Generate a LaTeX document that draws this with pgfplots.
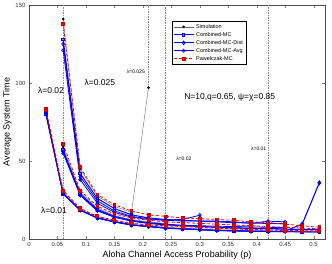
\documentclass[border=0pt]{standalone}
\usepackage{pgfplots}
\pgfplotsset{compat=1.18}
\usepackage{fontspec}
\setmainfont{Liberation Sans}
\begin{document}
\begin{tikzpicture}
\path[use as bounding box] (0,0) rectangle (332pt,264pt);
\begin{axis}[
  at={(29pt,25pt)}, anchor=south west,
  width=296pt, height=234pt, scale only axis,
  xmin=0, xmax=0.52, ymin=0, ymax=150,
  xtick={0,0.05,0.1,0.15,0.2,0.25,0.3,0.35,0.4,0.45,0.5},
  xticklabels={0,0.05,0.1,0.15,0.2,0.25,0.3,0.35,0.4,0.45,0.5},
  ytick={0,50,100,150},
  scaled x ticks=false,
  tick align=inside, major tick length=3pt,
  /pgf/number format/assume math mode=true,
  tick label style={font=\fontsize{6}{7}\selectfont, text=black!80},
  xlabel={Aloha Channel Access Probability (p)},
  ylabel={Average System Time},
  label style={font=\fontsize{9}{10}\selectfont},
  xlabel style={yshift=3pt},
  ylabel style={yshift=-3pt},
  axis line style={black!70},
  legend cell align=left,
  legend style={at={(0.483,0.932)}, anchor=north west, font=\fontsize{5.5}{6}\selectfont,
    draw=black, fill=white, inner sep=1pt, row sep=-1.5pt},
  legend image code/.code={\draw[mark repeat=2,mark phase=2] plot coordinates {(0cm,0cm) (0.35cm,0cm) (0.7cm,0cm)};},
]
% vertical dashed markers
\addplot[black!45, dash pattern=on 1.5pt off 1pt, forget plot] coordinates {(0.06,0) (0.06,150)};
\addplot[black!45, dash pattern=on 1.5pt off 1pt, forget plot] coordinates {(0.24,0) (0.24,150)};
\addplot[black!45, dash pattern=on 1.5pt off 1pt, forget plot] coordinates {(0.42,0) (0.42,150)};
\addplot[black!45, dash pattern=on 1.5pt off 1pt, forget plot] coordinates {(0.21,97) (0.21,150)};

% Simulation
\addplot[black!60, thin, mark=*, mark size=1.1pt, mark options={black, solid}] coordinates {
(0.06,141) (0.09,45) (0.12,27.5) (0.15,21) (0.18,17) (0.21,97)};
\addlegendentry{Simulation}
\addplot[black!60, thin, mark=*, mark size=1.1pt, mark options={black, solid}, forget plot] coordinates {
(0.06,59) (0.09,30) (0.12,20) (0.15,15) (0.18,12.5) (0.21,11) (0.24,10)};
\addplot[black!60, thin, mark=*, mark size=1.1pt, mark options={black, solid}, forget plot] coordinates {
(0.03,82) (0.06,30) (0.09,19) (0.12,14) (0.15,11.5) (0.18,9.5) (0.21,8.5) (0.24,7.5) (0.27,7) (0.30,6.5) (0.33,6) (0.36,5.8) (0.39,5.5) (0.42,5.3)};

% Combined-MC
\addplot[blue, line width=1pt, mark=square*, mark size=1.3pt, mark options={fill=blue!45, draw=blue, solid}] coordinates {
(0.06,128) (0.09,42) (0.12,26) (0.15,19.5) (0.18,15.5) (0.21,13.5) (0.24,12.5) (0.27,12) (0.30,11.5) (0.33,11) (0.36,10.5) (0.39,10.3) (0.42,10) (0.45,9.8)};
\addlegendentry{Combined-MC}
\addplot[blue, line width=1pt, mark=square*, mark size=1.3pt, mark options={fill=blue!45, draw=blue, solid}, forget plot] coordinates {
(0.06,57) (0.09,29) (0.12,19) (0.15,14.5) (0.18,12) (0.21,10.5) (0.24,9.5) (0.27,8.5) (0.30,8) (0.33,7.5) (0.36,7) (0.39,6.8) (0.42,6.5) (0.45,6.3) (0.48,6) (0.51,6)};
\addplot[blue, line width=1pt, mark=square*, mark size=1.3pt, mark options={fill=blue!45, draw=blue, solid}, forget plot] coordinates {
(0.03,80) (0.06,29) (0.09,18.5) (0.12,13.5) (0.15,11) (0.18,9) (0.21,8) (0.24,7) (0.27,6.5) (0.30,6) (0.33,5.5) (0.36,5.3) (0.39,5) (0.42,4.8) (0.45,4.7) (0.48,4.6) (0.51,4.5)};

% Combined-MC-Dist
\addplot[blue, line width=0.8pt, mark=diamond, mark size=1.8pt, mark options={solid}] coordinates {
(0.06,125) (0.09,40) (0.12,24.5) (0.15,18) (0.18,14.5) (0.21,13) (0.24,12) (0.27,12.6) (0.30,15.2)};
\addlegendentry{Combined-MC-Dist}
\addplot[blue, line width=0.8pt, mark=diamond, mark size=1.8pt, mark options={solid}, forget plot] coordinates {
(0.06,56) (0.09,28) (0.12,18.5) (0.15,14) (0.18,11.5) (0.21,10) (0.24,9) (0.27,8.5) (0.30,8) (0.33,7.5) (0.36,7.2) (0.39,7) (0.42,6.8) (0.45,6.5)};
\addplot[blue, line width=1.1pt, mark=diamond*, mark size=1.8pt, mark options={solid}, forget plot] coordinates {
(0.03,80) (0.06,29) (0.09,18.5) (0.12,13.5) (0.15,11) (0.18,9) (0.21,8) (0.24,7) (0.27,6.5) (0.30,6) (0.33,5.5) (0.36,5.2) (0.39,5) (0.42,4.8) (0.45,5) (0.48,9.6) (0.51,36)};

% Combined-MC-Avg
\addplot[blue, line width=0.8pt, mark=o, mark size=1.5pt, mark options={solid}] coordinates {
(0.06,121) (0.09,38) (0.12,23) (0.15,17) (0.18,14) (0.21,12.5) (0.24,12) (0.27,11.5) (0.30,11.5) (0.33,11.5) (0.36,11) (0.39,10) (0.42,11.4) (0.45,11)};
\addlegendentry{Combined-MC-Avg}
\addplot[blue, line width=0.8pt, mark=o, mark size=1.5pt, mark options={solid}, forget plot] coordinates {
(0.06,55) (0.09,28) (0.12,18) (0.15,14) (0.18,11.5) (0.21,10) (0.24,9.3) (0.27,8.8) (0.30,8.5) (0.33,8.2) (0.36,8) (0.39,7.8) (0.42,7.5) (0.45,7.3)};
\addplot[blue, line width=0.8pt, mark=o, mark size=1.5pt, mark options={solid}, forget plot] coordinates {
(0.03,80) (0.06,29) (0.09,18.5) (0.12,13.5) (0.15,11) (0.18,9) (0.21,8) (0.24,7) (0.27,6.5) (0.30,6) (0.33,5.5) (0.36,5.3) (0.39,5) (0.42,4.8) (0.45,4.7) (0.48,4.6) (0.51,4.5)};

% Pawelczak-MC
\addplot[red, densely dashed, line width=0.8pt, mark=square*, mark size=1.4pt, mark options={solid, fill=red, draw=red!80!black}] coordinates {
(0.06,138) (0.09,46) (0.12,28.5) (0.15,22) (0.18,18) (0.21,15.5) (0.24,14.5) (0.27,13.5) (0.30,13) (0.33,12.5) (0.36,12) (0.39,11) (0.42,10.5) (0.45,9.5) (0.48,8.5) (0.51,7.5)};
\addlegendentry{Pawelczak-MC}
\addplot[red, densely dashed, line width=0.8pt, mark=square*, mark size=1.4pt, mark options={solid, fill=red, draw=red!80!black}, forget plot] coordinates {
(0.06,61) (0.09,31) (0.12,21) (0.15,16) (0.18,13.5) (0.21,12) (0.24,11) (0.27,10.5) (0.30,10) (0.33,9.5) (0.36,9) (0.39,8.5) (0.42,8) (0.45,7.5) (0.48,7) (0.51,6.5)};
\addplot[red, densely dashed, line width=1pt, mark=square*, mark size=1.6pt, mark options={solid, fill=red, draw=red!80!black}, forget plot] coordinates {
(0.03,83) (0.06,31) (0.09,19.5) (0.12,14.5) (0.15,12) (0.18,10) (0.21,9) (0.24,8.5) (0.27,8) (0.30,7.5) (0.33,7) (0.36,6.5) (0.39,6) (0.42,5.8) (0.45,5.5) (0.48,5.3) (0.51,5.2)};

% annotations
\node[font=\fontsize{8.5}{9}\selectfont] at (axis cs:0.0386,94.9) {λ=0.02};
\node[font=\fontsize{8.5}{9}\selectfont] at (axis cs:0.1246,100.6) {λ=0.025};
\node[font=\fontsize{8.5}{9}\selectfont] at (axis cs:0.0439,18.6) {λ=0.01};
\node[font=\fontsize{8.5}{9}\selectfont] at (axis cs:0.3526,91) {N=10,q=0.65, ψ=χ=0.85};
\node[font=\fontsize{5}{6}\selectfont] at (axis cs:0.1877,107) {λ=0.025};
\node[font=\fontsize{5}{6}\selectfont] at (axis cs:0.272,51.3) {λ=0.02};
\node[font=\fontsize{5}{6}\selectfont] at (axis cs:0.4035,57.7) {λ=0.01};
\end{axis}
\end{tikzpicture}
\end{document}
